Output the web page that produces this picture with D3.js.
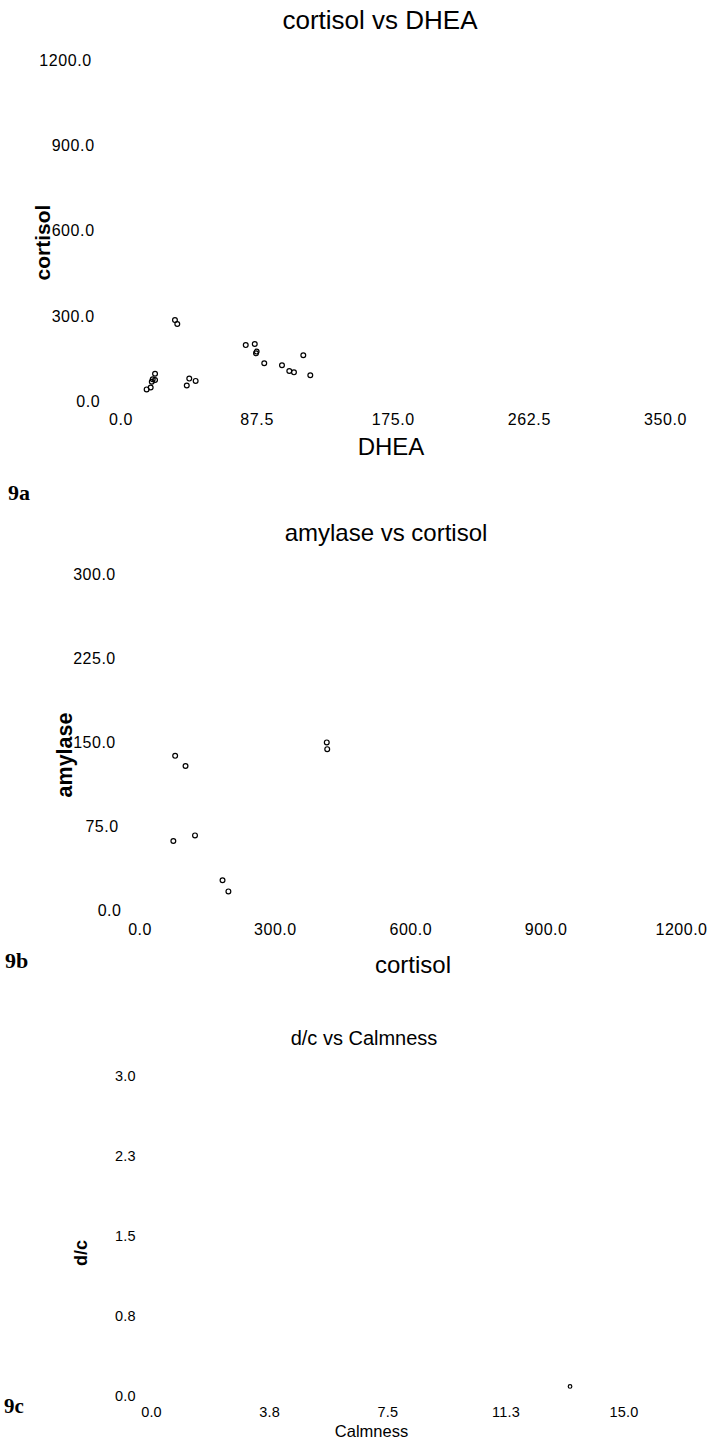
<!DOCTYPE html>
<html>
<head>
<meta charset="utf-8">
<script src="https://cdn.jsdelivr.net/npm/d3@7"></script>
<style>
  html, body { margin: 0; padding: 0; background: #fff; }
  svg { display: block; }
  text { font-family: "Liberation Sans", Arial, sans-serif; fill: #000; }
  .panel-tag { font-family: "Liberation Serif", "Times New Roman", serif; font-weight: bold; }
</style>
</head>
<body>
<script>
// ---------- Data ----------
// 9a: cortisol vs DHEA
const dheaA = [35.0, 36.5, 80.5, 86.3, 87.5, 87.1, 92.4, 103.8, 108.5, 111.5, 117.5, 122.0, 22.2, 20.7, 22.2, 20.1, 19.4, 16.8, 44.2, 48.3, 42.6];
const cortisolA = [283, 269, 195, 199, 172, 166, 131, 124, 104, 99, 159, 89, 94, 75, 72, 66, 46, 39, 77, 69, 53];
const xTickValsA = [0, 87.5, 175, 262.5, 350];
const xTickLabelsA = ["0.0", "87.5", "175.0", "262.5", "350.0"];
const yTickValsA = [0, 300, 600, 900, 1200];
const yTickLabelsA = ["0.0", "300.0", "600.0", "900.0", "1200.0"];

// 9b: amylase vs cortisol
const cortisolB = [79, 102, 415, 416, 75, 123, 184, 197];
const amylaseB = [137, 128, 149, 143, 61, 66, 26, 16];
const xTickValsB = [0, 300, 600, 900, 1200];
const xTickLabelsB = ["0.0", "300.0", "600.0", "900.0", "1200.0"];
const yTickValsB = [0, 75, 150, 225, 300];
const yTickLabelsB = ["0.0", "75.0", "150.0", "225.0", "300.0"];

// 9c: d/c vs Calmness
const calmnessC = [13.3];
const dcC = [0.08];
const xTickValsC = [0, 3.75, 7.5, 11.25, 15];
const xTickLabelsC = ["0.0", "3.8", "7.5", "11.3", "15.0"];
const yTickValsC = [0, 0.75, 1.5, 2.25, 3];
const yTickLabelsC = ["0.0", "0.8", "1.5", "2.3", "3.0"];

// ---------- Layout ----------
const W = 710, H = 1447;
const svg = d3.select("body").append("svg").attr("width", W).attr("height", H);

function panel(cfg) {
  const g = svg.append("g");
  const x = d3.scaleLinear().domain(cfg.xDomain).range(cfg.xRange);
  const y = d3.scaleLinear().domain(cfg.yDomain).range(cfg.yRange);

  // title
  g.append("text").attr("x", cfg.title.x).attr("y", cfg.title.y)
    .attr("text-anchor", "middle").style("font-size", cfg.title.size + "px")
    .text(cfg.title.text);

  // x axis (labels only)
  const xa = g.append("g").attr("transform", `translate(0,${cfg.xTickY})`)
    .call(d3.axisBottom(x).tickValues(cfg.xTickVals)
      .tickFormat((d, i) => cfg.xTickLabels[i]).tickSize(0).tickPadding(0));
  xa.select(".domain").remove();
  xa.selectAll("text").attr("y", 0).attr("dy", 0)
    .style("font-size", cfg.tickSize + "px").style("letter-spacing", cfg.ls + "px")
    .style("font-family", '"Liberation Sans", Arial, sans-serif').attr("fill", "#000");

  // y axis (labels only)
  const ya = g.append("g")
    .call(d3.axisLeft(y).tickValues(cfg.yTickVals)
      .tickFormat((d, i) => cfg.yTickLabels[i]).tickSize(0).tickPadding(0));
  ya.select(".domain").remove();
  ya.selectAll("text").attr("dy", "0.36em")
    .style("font-size", cfg.tickSize + "px").style("letter-spacing", cfg.ls + "px")
    .style("font-family", '"Liberation Sans", Arial, sans-serif').attr("fill", "#000")
    .attr("text-anchor", "end")
    .attr("x", function () { return cfg.yAnchor - 0.3 * this.getComputedTextLength(); });

  // axis titles
  g.append("text").attr("x", cfg.xLabel.x).attr("y", cfg.xLabel.y)
    .attr("text-anchor", "middle").style("font-size", cfg.xLabel.size + "px")
    .style("font-weight", cfg.xLabel.weight || "normal")
    .text(cfg.xLabel.text);
  g.append("text")
    .attr("transform", `translate(${cfg.yLabel.x},${cfg.yLabel.y}) rotate(-90)`)
    .attr("text-anchor", "middle").style("font-size", cfg.yLabel.size + "px")
    .style("font-weight", cfg.yLabel.weight || "bold")
    .text(cfg.yLabel.text);

  // points
  g.append("g").selectAll("circle").data(cfg.xs.map((v, i) => [v, cfg.ys[i]]))
    .join("circle")
    .attr("cx", d => x(d[0])).attr("cy", d => y(d[1]))
    .attr("r", cfg.r).attr("fill", "none").attr("stroke", "#000").attr("stroke-width", 1.2);

  // panel tag
  g.append("text").attr("class", "panel-tag").attr("x", cfg.tag.x).attr("y", cfg.tag.y)
    .style("font-size", cfg.tag.size + "px").text(cfg.tag.text);
}

panel({
  xDomain: [0, 350], xRange: [120.5, 665],
  yDomain: [0, 1200], yRange: [400.5, 59.5],
  xTickVals: xTickValsA, xTickLabels: xTickLabelsA,
  yTickVals: yTickValsA, yTickLabels: yTickLabelsA,
  xTickY: 425, yAnchor: 107.6, tickSize: 16, ls: 0.6,
  title: { text: "cortisol vs DHEA", x: 380, y: 29, size: 26 },
  xLabel: { text: "DHEA", x: 391, y: 455, size: 24 },
  yLabel: { text: "cortisol", x: 50, y: 242.5, size: 21 },
  xs: dheaA, ys: cortisolA, r: 2.4,
  tag: { text: "9a", x: 8, y: 500, size: 22 }
});

panel({
  xDomain: [0, 1200], xRange: [139.5, 681],
  yDomain: [0, 300], yRange: [909.3, 573.3],
  xTickVals: xTickValsB, xTickLabels: xTickLabelsB,
  yTickVals: yTickValsB, yTickLabels: yTickLabelsB,
  xTickY: 935, yAnchor: 128.5, tickSize: 16, ls: 0.5,
  title: { text: "amylase vs cortisol", x: 386, y: 541, size: 24 },
  xLabel: { text: "cortisol", x: 413, y: 973, size: 24 },
  yLabel: { text: "amylase", x: 72, y: 755, size: 21.5 },
  xs: cortisolB, ys: amylaseB, r: 2.4,
  tag: { text: "9b", x: 5, y: 968, size: 22 }
});

panel({
  xDomain: [0, 15], xRange: [151, 623.6],
  yDomain: [0, 3], yRange: [1395, 1075],
  xTickVals: xTickValsC, xTickLabels: xTickLabelsC,
  yTickVals: yTickValsC, yTickLabels: yTickLabelsC,
  xTickY: 1417, yAnchor: 142, tickSize: 14.5, ls: 0.2,
  title: { text: "d/c vs Calmness", x: 364, y: 1045, size: 20 },
  xLabel: { text: "Calmness", x: 371.5, y: 1437, size: 16.5 },
  yLabel: { text: "d/c", x: 87, y: 1253, size: 18 },
  xs: calmnessC, ys: dcC, r: 1.8,
  tag: { text: "9c", x: 4, y: 1413, size: 21 }
});
</script>
</body>
</html>
